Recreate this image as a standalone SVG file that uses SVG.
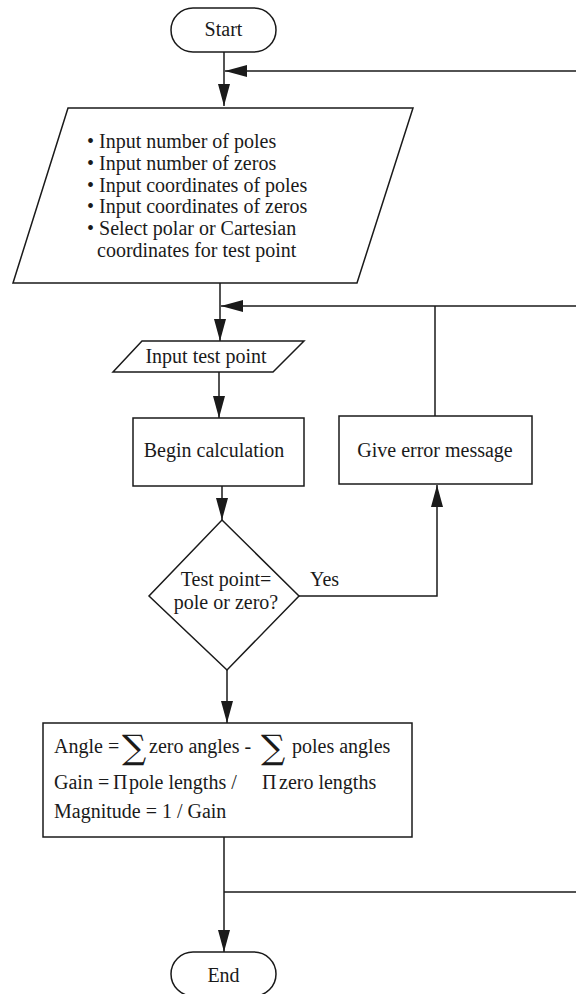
<svg xmlns="http://www.w3.org/2000/svg" width="576" height="994" viewBox="0 0 576 994">
<defs>
<marker id="arr" markerUnits="userSpaceOnUse" markerWidth="24" markerHeight="14" refX="22" refY="6" orient="auto">
<path d="M0,0 L22,6 L0,12 Z" fill="#1a1a1a"/>
</marker>
<style>
.s{fill:#fff;stroke:#1a1a1a;stroke-width:1.5}
.c{fill:none;stroke:#1a1a1a;stroke-width:1.5}
text{font-family:"Liberation Serif","Times New Roman",serif;font-size:20px;fill:#1a1a1a}
.m{text-anchor:middle}
.sig{font-family:"DejaVu Serif",serif;font-size:34px}
</style>
</defs>
<rect width="576" height="994" fill="#fff"/>
<g id="connectors">
<path class="c" d="M224,52 V106" marker-end="url(#arr)"/>
<path class="c" d="M576,71 H225" marker-end="url(#arr)"/>
<path class="c" d="M220,283 V341" marker-end="url(#arr)"/>
<path class="c" d="M576,306 H221" marker-end="url(#arr)"/>
<path class="c" d="M435,416 V306"/>
<path class="c" d="M219,372 V418" marker-end="url(#arr)"/>
<path class="c" d="M222,486 V520" marker-end="url(#arr)"/>
<path class="c" d="M299,596 H437 V485" marker-end="url(#arr)"/>
<path class="c" d="M227,670 V723" marker-end="url(#arr)"/>
<path class="c" d="M224,837 V952" marker-end="url(#arr)"/>
<path class="c" d="M224,892 H576"/>
<text x="310" y="586">Yes</text>
</g>
<g id="start">
<rect class="s" x="171" y="8" width="105" height="44" rx="22"/>
<text class="m" x="223.5" y="36">Start</text>
</g>
<g id="input-params">
<polygon class="s" points="68,108 413,108 357,283 13,283"/>
<text x="87" y="148">• Input number of poles</text>
<text x="87" y="170">• Input number of zeros</text>
<text x="87" y="192">• Input coordinates of poles</text>
<text x="87" y="213">• Input coordinates of zeros</text>
<text x="87" y="235">• Select polar or Cartesian</text>
<text x="97" y="257">coordinates for test point</text>
</g>
<g id="input-test-point">
<polygon class="s" points="142,341 304,341 273,372 113,372"/>
<text class="m" x="206" y="363">Input test point</text>
</g>
<g id="begin-calc">
<rect class="s" x="133" y="418" width="171" height="68"/>
<text class="m" x="214" y="457">Begin calculation</text>
</g>
<g id="error">
<rect class="s" x="339" y="416" width="193" height="68"/>
<text class="m" x="435" y="457">Give error message</text>
</g>
<g id="decision">
<polygon class="s" points="222,520 299,596 227,670 149,596"/>
<text class="m" x="226" y="586">Test point=</text>
<text class="m" x="226" y="609">pole or zero?</text>
</g>
<g id="calc">
<rect class="s" x="43" y="723" width="369" height="114"/>
<text x="54" y="753">Angle = <tspan x="122" class="sig" dy="6">∑</tspan><tspan x="149" dy="-6">zero angles -</tspan><tspan x="261" class="sig" dy="6">∑</tspan><tspan x="292" dy="-6">poles angles</tspan></text>
<text x="54" y="789">Gain =<tspan x="113">Π</tspan><tspan x="129">pole lengths /</tspan><tspan x="262">Π</tspan><tspan x="279">zero lengths</tspan></text>
<text x="54" y="818">Magnitude = 1 / Gain</text>
</g>
<g id="end">
<rect class="s" x="171" y="952" width="105" height="44" rx="22"/>
<text class="m" x="223.5" y="982">End</text>
</g>
</svg>
